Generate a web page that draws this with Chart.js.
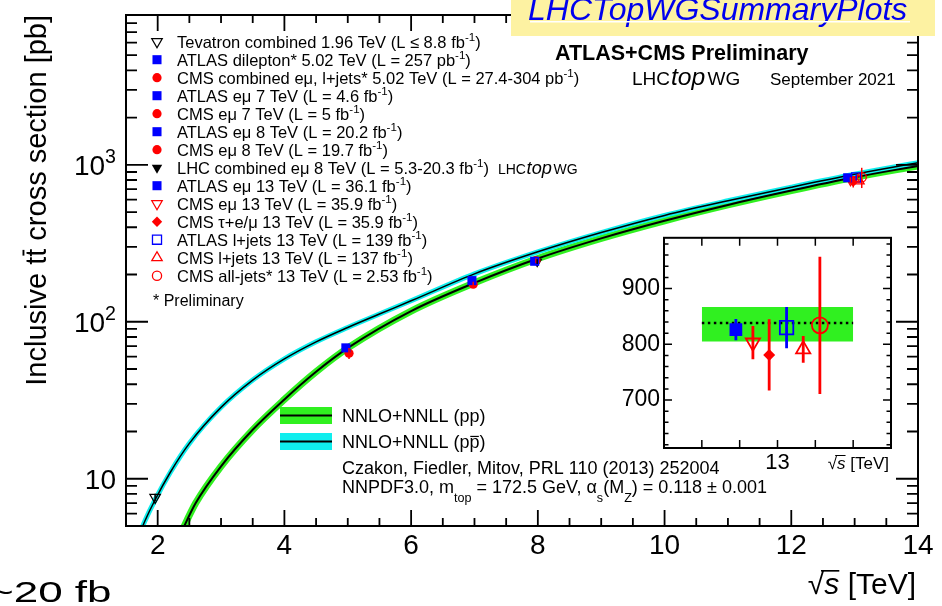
<!DOCTYPE html>
<html>
<head>
<meta charset="utf-8">
<script src="https://cdn.jsdelivr.net/npm/chart.js"></script>
<style>
  html, body { margin: 0; padding: 0; background: #fff; }
  #wrap { position: relative; width: 942px; height: 606px; overflow: hidden; }
  canvas { position: absolute; }
  #main { left: 0; top: 0; }
  #inset { left: 590px; top: 220px; }
</style>
</head>
<body>
<div id="wrap">
  <canvas id="main" width="942" height="606"></canvas>
  <canvas id="inset" width="320" height="270"></canvas>
</div>
<script>
const FONT = "'Liberation Sans', Arial, Helvetica, sans-serif";
const BLUE = '#0000ff', RED = '#ff0000', GREEN = '#30f020', CYAN = '#10eeee';

// NNLO+NNLL prediction for pp (TeV, pb)
const ppEnergy = [2.3, 2.4, 2.6, 3.0, 3.5, 4.0, 4.5, 5.02, 6, 7, 8, 9, 10, 11, 12, 13, 14];
const ppXsec = [3.9, 4.8, 7.0, 12.0, 20.5, 32, 48, 68.9, 117, 177, 253, 340, 440, 555, 685, 832, 984];

// NNLO+NNLL prediction for p-pbar
const ppbarEnergy = [1.7, 1.8, 1.96, 2.2, 2.5, 3.0, 3.5, 4.0, 4.5, 5.0, 5.5, 6, 7, 8, 9, 10, 11, 12, 13, 14];
const ppbarXsec = [4.3, 5.4, 7.35, 11.0, 16.8, 28.5, 42.5, 58, 74.5, 92, 112, 136, 202, 279, 370, 476, 590, 720, 870, 1030];

// measurements
const expLabels = [
  'Tevatron combined 1.96 TeV (L ≤ 8.8 fb^{-1})',
  'ATLAS dilepton* 5.02 TeV (L = 257 pb^{-1})',
  'CMS combined eμ, l+jets* 5.02 TeV (L = 27.4-304 pb^{-1})',
  'ATLAS eμ 7 TeV (L = 4.6 fb^{-1})',
  'CMS eμ 7 TeV (L = 5 fb^{-1})',
  'ATLAS eμ 8 TeV (L = 20.2 fb^{-1})',
  'CMS eμ 8 TeV (L = 19.7 fb^{-1})',
  'LHC combined eμ 8 TeV (L = 5.3-20.3 fb^{-1})',
  'ATLAS eμ 13 TeV (L = 36.1 fb^{-1})',
  'CMS eμ 13 TeV (L = 35.9 fb^{-1})',
  'CMS τ+e/μ 13 TeV (L = 35.9 fb^{-1})',
  'ATLAS l+jets 13 TeV (L = 139 fb^{-1})',
  'CMS l+jets 13 TeV (L = 137 fb^{-1})',
  'CMS all-jets* 13 TeV (L = 2.53 fb^{-1})'
];
const expEnergy = [1.96, 4.97, 5.02, 6.96, 6.98, 7.95, 7.97, 7.99, 12.89, 12.935, 12.978, 13.024, 13.068, 13.112];
const expXsec = [7.60, 68.2, 63.0, 182.9, 173.6, 242.9, 244.9, 241.5, 826.4, 803, 781, 830, 791, 834];
const expErr = [0.41, 3.2, 5.1, 7.1, 6.3, 8.8, 9.0, 8.5, 19, 30, 64, 37, 24, 123];

// prediction at 13 TeV drawn in the inset
const bandEnergy = [12.8, 13.2];
const bandLow = [805, 805];
const bandHigh = [867, 867];
const bandCentral = [838, 838];

// axis ticks
const xTicks = [2, 4, 6, 8, 10, 12, 14];
const yTicks = [10, 100, 1000];
const insetXTicks = [13];
const insetYTicks = [700, 800, 900];

// marker look for each measurement (small = main plot, big = inset)
const expMarkers = [
  { style: 'triangle', rot: 180, color: '#000', open: true, small: 6, big: 8 },
  { style: 'rect', color: BLUE, small: 6.4, big: 9 },
  { style: 'circle', color: RED, small: 4.6, big: 8 },
  { style: 'rect', color: BLUE, small: 6.4, big: 9 },
  { style: 'circle', color: RED, small: 4.6, big: 8 },
  { style: 'rect', color: BLUE, small: 6.4, big: 9 },
  { style: 'circle', color: RED, small: 4.6, big: 8 },
  { style: 'triangle', rot: 180, color: '#000', small: 6, big: 8 },
  { style: 'rect', color: BLUE, small: 6.4, big: 9 },
  { style: 'triangle', rot: 180, color: RED, open: true, small: 6, big: 8.2 },
  { style: 'rectRot', color: RED, small: 5.2, big: 6 },
  { style: 'rect', color: BLUE, open: true, small: 6.4, big: 9.5 },
  { style: 'triangle', color: RED, open: true, small: 6, big: 8.2 },
  { style: 'circle', color: RED, open: true, small: 4.6, big: 8 }
];

const toPoints = (xs, ys) => xs.map((x, i) => ({ x: x, y: ys[i] }));

// text with ^{sup}, _{sub}, #it{..}, #bar{..}, #sqrt{..}
function parseRich(str) {
  return str.split(/(\^\{[^}]*\}|_\{[^}]*\}|#it\{[^}]*\}|#bar\{[^}]*\}|#sqrt\{[^}]*\})/)
    .filter(s => s.length)
    .map(s => {
      const m = s.match(/^(\^|_|#it|#bar|#sqrt)\{(.*)\}$/);
      if (!m) return { text: s, kind: '' };
      return { text: m[2], kind: { '^': 'sup', '_': 'sub', '#it': 'it', '#bar': 'bar', '#sqrt': 'sqrt' }[m[1]] };
    });
}

function drawRich(ctx, str, x, y, size, opt) {
  opt = opt || {};
  const parts = parseRich(str);
  const weight = opt.bold ? 'bold ' : '';
  const fontFor = (p, it) => {
    const small = p.kind === 'sup' || p.kind === 'sub';
    return (it ? 'italic ' : '') + weight + (small ? size * 0.7 : size) + 'px ' + FONT;
  };
  let total = 0;
  parts.forEach(p => {
    if (p.kind === 'sqrt') {
      ctx.font = fontFor(p, false);
      p.wr = ctx.measureText('√').width;
      p.ar = ctx.measureText('√').actualBoundingBoxAscent;
      ctx.font = fontFor(p, true);
      p.wc = ctx.measureText(p.text).width;
      p.w = p.wr + p.wc;
    } else {
      ctx.font = fontFor(p, p.kind === 'it');
      p.w = ctx.measureText(p.text).width;
    }
    total += p.w;
  });
  let cx = opt.align === 'right' ? x - total : opt.align === 'center' ? x - total / 2 : x;
  ctx.textAlign = 'left';
  ctx.textBaseline = 'alphabetic';
  parts.forEach(p => {
    if (p.kind === 'sqrt') {
      ctx.font = fontFor(p, false);
      ctx.fillText('√', cx, y);
      ctx.font = fontFor(p, true);
      ctx.fillText(p.text, cx + p.wr, y);
      ctx.fillRect(cx + p.wr * 0.8, y - p.ar, p.wc + p.wr * 0.2, Math.max(1, size * 0.055));
    } else {
      ctx.font = fontFor(p, p.kind === 'it');
      const dy = p.kind === 'sup' ? -0.42 * size : p.kind === 'sub' ? 0.5 * size : 0;
      ctx.fillText(p.text, cx, y + dy);
      if (p.kind === 'bar') {
        const asc = ctx.measureText(p.text).actualBoundingBoxAscent;
        ctx.fillRect(cx + 0.04 * size, y - asc - 0.12 * size, p.w - 0.08 * size, Math.max(1.2, 0.065 * size));
      }
    }
    cx += p.w;
  });
  return total;
}

function drawLogo(ctx, x, base, size) {
  ctx.textAlign = 'left';
  ctx.textBaseline = 'alphabetic';
  ctx.font = size + 'px ' + FONT;
  ctx.fillText('LHC', x, base);
  x += ctx.measureText('LHC').width + size * 0.05;
  ctx.font = 'italic ' + (size * 1.3) + 'px ' + FONT;
  ctx.fillText('top', x, base);
  x += ctx.measureText('top').width + size * 0.12;
  ctx.font = size + 'px ' + FONT;
  ctx.fillText('WG', x, base);
}

function drawMarker(ctx, ds, x, y) {
  ctx.save();
  ctx.fillStyle = ds.pointBackgroundColor;
  ctx.strokeStyle = ds.pointBorderColor;
  ctx.lineWidth = ds.pointBorderWidth || 1;
  Chart.helpers.drawPoint(ctx, {
    pointStyle: ds.pointStyle, rotation: ds.pointRotation,
    radius: ds.pointRadius, borderWidth: ds.pointBorderWidth
  }, x, y);
  ctx.restore();
}

function expDatasets(indices, big) {
  return indices.map(i => {
    const m = expMarkers[i];
    return {
      label: expLabels[i],
      data: [{ x: expEnergy[i], y: expXsec[i] }],
      errs: [expErr[i]],
      showLine: false,
      pointStyle: m.style,
      pointRotation: m.rot || 0,
      pointRadius: big ? m.big : m.small,
      pointBackgroundColor: m.open ? 'rgba(0,0,0,0)' : m.color,
      pointBorderColor: m.color,
      pointBorderWidth: m.open ? (big ? 1.8 : 1.3) : 0,
      borderColor: m.color,
      order: 1
    };
  });
}

const curve = (label, xs, ys, color, width, order) => ({
  label: label, data: toPoints(xs, ys), borderColor: color, borderWidth: width,
  pointRadius: 0, cubicInterpolationMode: 'monotone', fill: false, clip: 0, order: order
});

// vertical error bars, drawn through the y scale
function errorBars(lw) {
  return {
    id: 'errorBars',
    afterDatasetsDraw(chart) {
      const { ctx, chartArea: a, scales: { y } } = chart;
      ctx.save();
      ctx.beginPath();
      ctx.rect(a.left, a.top, a.right - a.left, a.bottom - a.top);
      ctx.clip();
      ctx.lineWidth = lw;
      chart.data.datasets.forEach((ds, i) => {
        if (!ds.errs) return;
        chart.getDatasetMeta(i).data.forEach((pt, j) => {
          const v = ds.data[j].y, e = ds.errs[j];
          ctx.strokeStyle = ds.borderColor;
          ctx.beginPath();
          ctx.moveTo(pt.x, y.getPixelForValue(v + e));
          ctx.lineTo(pt.x, y.getPixelForValue(v - e));
          ctx.stroke();
        });
      });
      ctx.restore();
    }
  };
}

// ROOT style frame, ticks pointing inwards on all four sides
function rootFrame(cfg) {
  return {
    id: 'rootFrame',
    afterDatasetsDraw(chart) {
      const { ctx, chartArea: a, scales: { x, y } } = chart;
      ctx.save();
      ctx.strokeStyle = '#000';
      ctx.lineWidth = cfg.tickWidth;
      ctx.beginPath();
      const xTick = (v, len) => {
        const p = x.getPixelForValue(v);
        ctx.moveTo(p, a.bottom); ctx.lineTo(p, a.bottom - len);
        ctx.moveTo(p, a.top); ctx.lineTo(p, a.top + len);
      };
      const yTick = (v, len) => {
        const p = y.getPixelForValue(v);
        ctx.moveTo(a.left, p); ctx.lineTo(a.left + len, p);
        ctx.moveTo(a.right, p); ctx.lineTo(a.right - len, p);
      };
      cfg.xMinor.forEach(v => xTick(v, cfg.xLen[1]));
      cfg.xMajor.forEach(v => xTick(v, cfg.xLen[0]));
      cfg.yMinor.forEach(v => yTick(v, cfg.yLen[1]));
      cfg.yMajor.forEach(v => yTick(v, cfg.yLen[0]));
      ctx.stroke();
      ctx.lineWidth = cfg.frameWidth;
      ctx.strokeRect(a.left, a.top, a.right - a.left, a.bottom - a.top);
      ctx.restore();
    }
  };
}

const mainXMinor = [];
for (let v = 1.5; v <= 14; v += 0.5) mainXMinor.push(v);
const mainYMinor = [];
[1, 10, 100, 1000].forEach(d => { for (let k = 2; k <= 9; k++) if (k * d >= 5 && k * d <= 9000) mainYMinor.push(k * d); });
const insetYMinor = [];
for (let v = 620; v <= 980; v += 20) insetYMinor.push(v);

const mainText = {
  id: 'mainText',
  afterDraw(chart) {
    const ctx = chart.ctx;
    const y = chart.scales.y;
    const sets = chart.data.datasets;
    ctx.save();
    ctx.fillStyle = '#000';

    // y tick labels
    yTicks.forEach(v => {
      const e = Math.round(Math.log10(v));
      drawRich(ctx, e === 1 ? '10' : '10^{' + e + '}', 116, y.getPixelForValue(v) + 10, 28, { align: 'right' });
    });

    // axis titles
    ctx.save();
    ctx.translate(46, 15);
    ctx.rotate(-Math.PI / 2);
    drawRich(ctx, 'Inclusive t#bar{t} cross section [pb]', 0, 0, 29, { align: 'right' });
    ctx.restore();
    drawRich(ctx, '#sqrt{s} [TeV]', 916, 594, 30, { align: 'right' });

    // legend of measurements
    expLabels.forEach((lab, i) => {
      const cy = 41.7 + 18 * i;
      drawMarker(ctx, sets[4 + i], 157, cy);
      ctx.fillStyle = '#000';
      const w = drawRich(ctx, lab, 177, cy + 6, 16.5);
      if (i === 7) drawLogo(ctx, 177 + w + 9, cy + 6, 14);
    });
    drawRich(ctx, '* Preliminary', 153, 306, 16);

    // legend of the prediction
    [[sets[0].borderColor, 415.5, 'NNLO+NNLL (pp)'], [sets[1].borderColor, 441.5, 'NNLO+NNLL (p#bar{p})']].forEach(r => {
      ctx.fillStyle = r[0];
      ctx.fillRect(280, r[1] - 8.5, 52, 17);
      ctx.fillStyle = '#000';
      ctx.fillRect(280, r[1] - 1, 52, 2);
      drawRich(ctx, r[2], 342, r[1] + 6.5, 18);
    });
    drawRich(ctx, 'Czakon, Fiedler, Mitov, PRL 110 (2013) 252004', 342, 473.5, 18);
    drawRich(ctx, 'NNPDF3.0, m_{top} = 172.5 GeV, α_{s}(M_{Z}) = 0.118 ± 0.001', 342, 493, 18);

    // header
    drawRich(ctx, 'ATLAS+CMS Preliminary', 555, 60, 21.5, { bold: true });
    drawLogo(ctx, 632, 85, 19);
    drawRich(ctx, 'September 2021', 770, 85, 17);

    // watermark
    ctx.fillStyle = '#fdf2a2';
    ctx.fillRect(511, 0, 424, 36);
    ctx.fillStyle = '#0000ee';
    ctx.font = 'italic 32px ' + FONT;
    ctx.textAlign = 'left';
    ctx.textBaseline = 'alphabetic';
    ctx.fillText('LHCTopWGSummaryPlots', 528, 20);
    ctx.fillStyle = '#ffffff';
    ctx.fillRect(530, 21, 380, 1.5);

    // leftover text at the bottom edge
    ctx.fillStyle = '#000';
    ctx.save();
    ctx.translate(-12, 602);
    ctx.scale(1, 0.68);
    ctx.font = '44px ' + FONT;
    ctx.fillText('~20 fb', 0, 0);
    ctx.restore();

    ctx.restore();
  }
};

new Chart(document.getElementById('main'), {
  type: 'line',
  data: {
    datasets: [
      curve('NNLO+NNLL (pp) band', ppEnergy, ppXsec, GREEN, 7, 10),
      curve('NNLO+NNLL (ppbar) band', ppbarEnergy, ppbarXsec, CYAN, 5, 9),
      curve('NNLO+NNLL (pp)', ppEnergy, ppXsec, '#000', 2, 8),
      curve('NNLO+NNLL (ppbar)', ppbarEnergy, ppbarXsec, '#000', 1.5, 7)
    ].concat(expDatasets(expLabels.map((l, i) => i), false))
  },
  options: {
    responsive: false,
    animation: false,
    events: [],
    layout: { padding: { left: 0, right: 24, top: 15, bottom: 0 } },
    plugins: { legend: { display: false }, tooltip: { enabled: false } },
    scales: {
      x: {
        type: 'linear', min: 1.5, max: 14,
        grid: { display: false, drawTicks: false }, border: { display: false },
        afterBuildTicks: s => { s.ticks = xTicks.map(v => ({ value: v })); },
        afterFit: s => { s.height = 80; },
        ticks: { color: '#000', font: { family: FONT, size: 28 }, padding: 3, autoSkip: false, maxRotation: 0 }
      },
      y: {
        type: 'logarithmic', min: 5, max: 9000,
        grid: { display: false, drawTicks: false }, border: { display: false },
        afterBuildTicks: s => { s.ticks = yTicks.map(v => ({ value: v })); },
        afterFit: s => { s.width = 126; },
        ticks: { display: false }
      }
    }
  },
  plugins: [
    errorBars(1.5),
    rootFrame({ xMajor: xTicks, xMinor: mainXMinor, xLen: [16, 8], yMajor: yTicks, yMinor: mainYMinor, yLen: [22, 11], tickWidth: 1.8, frameWidth: 2 }),
    mainText
  ]
});

const insetText = {
  id: 'insetText',
  afterDraw(chart) {
    const ctx = chart.ctx;
    ctx.save();
    ctx.fillStyle = '#000';
    drawRich(ctx, '#sqrt{s} [TeV]', 299, 249, 17, { align: 'right' });
    ctx.restore();
  }
};

new Chart(document.getElementById('inset'), {
  type: 'line',
  data: {
    datasets: [
      { label: 'band high', data: toPoints(bandEnergy, bandHigh), fill: '+1', backgroundColor: GREEN, borderColor: 'rgba(0,0,0,0)', borderWidth: 1, pointRadius: 0, order: 10 },
      { label: 'band low', data: toPoints(bandEnergy, bandLow), fill: false, borderColor: 'rgba(0,0,0,0)', borderWidth: 1, pointRadius: 0, order: 10 },
      { label: 'central', data: toPoints(bandEnergy, bandCentral), fill: false, borderColor: '#000', borderWidth: 2.5, borderDash: [2.5, 3.5], pointRadius: 0, order: 5 }
    ].concat(expDatasets([8, 9, 10, 11, 12, 13], true))
  },
  options: {
    responsive: false,
    animation: false,
    events: [],
    layout: { padding: { left: 0, right: 19, top: 10, bottom: 0 } },
    plugins: { legend: { display: false }, tooltip: { enabled: false } },
    scales: {
      x: {
        type: 'linear', min: 12.7, max: 13.3,
        grid: { display: false, drawTicks: false }, border: { display: false },
        afterBuildTicks: s => { s.ticks = insetXTicks.map(v => ({ value: v })); },
        afterFit: s => { s.height = 42; },
        ticks: { color: '#000', font: { family: FONT, size: 22 }, padding: 2, autoSkip: false, maxRotation: 0 }
      },
      y: {
        type: 'linear', min: 614, max: 991,
        grid: { display: false, drawTicks: false }, border: { display: false },
        afterBuildTicks: s => { s.ticks = insetYTicks.map(v => ({ value: v })); },
        afterFit: s => { s.width = 74; },
        ticks: { color: '#000', font: { family: FONT, size: 23 }, padding: 4 }
      }
    }
  },
  plugins: [
    errorBars(2.8),
    rootFrame({ xMajor: [12.8, 12.9, 13.0, 13.1, 13.2], xMinor: [], xLen: [8, 8], yMajor: insetYTicks, yMinor: insetYMinor, yLen: [8, 4.5], tickWidth: 1.5, frameWidth: 2 }),
    insetText
  ]
});
</script>
</body>
</html>
